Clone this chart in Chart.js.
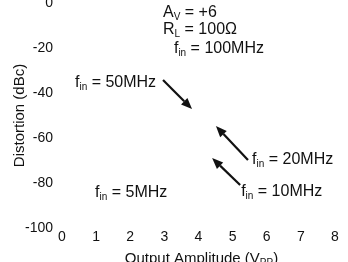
<!DOCTYPE html>
<html>
<head>
<meta charset="utf-8">
<script src="https://cdn.jsdelivr.net/npm/chart.js@4.4.1/dist/chart.umd.min.js"></script>
<style>
html,body{margin:0;padding:0;background:#fff}
#wrap{width:348px;height:262px}
</style>
</head>
<body>
<div id="wrap"><canvas id="c"></canvas></div>
<script>
// axis ranges / ticks
const xTicks = [0, 1, 2, 3, 4, 5, 6, 7, 8];
const yTicks = [0, -20, -40, -60, -80, -100];

// text notes: main letter, subscript, rest (positions in data units, left/baseline)
const noteMain = ['A', 'R', 'f', 'f', 'f', 'f', 'f'];
const noteSub = ['V', 'L', 'in', 'in', 'in', 'in', 'in'];
const noteRest = [' = +6', ' = 100Ω', ' = 100MHz', ' = 50MHz', ' = 20MHz', ' = 10MHz', ' = 5MHz'];
const noteX = [2.96, 2.96, 3.28, 0.38, 5.57, 5.25, 0.97];
const noteY = [-6.2, -13.8, -22.2, -37.3, -71.6, -85.8, -86.0];

// arrows (tail -> head)
const arrowFromX = [2.96, 5.45, 5.22];
const arrowFromY = [-34.2, -69.8, -80.9];
const arrowToX = [3.81, 4.51, 4.40];
const arrowToY = [-47.1, -54.7, -68.9];

const FONT = '"Liberation Sans", Arial, sans-serif';
const INK = '#111';

const notesPlugin = {
  id: 'notes',
  afterDraw(chart) {
    const ctx = chart.ctx;
    const xs = chart.scales.x, ys = chart.scales.y;
    ctx.save();
    ctx.fillStyle = INK;
    ctx.strokeStyle = INK;
    ctx.textBaseline = 'alphabetic';
    ctx.textAlign = 'left';
    // notes
    noteMain.forEach((m, i) => {
      let px = xs.getPixelForValue(noteX[i]);
      const py = ys.getPixelForValue(noteY[i]);
      ctx.font = '16px ' + FONT;
      ctx.fillText(m, px, py);
      px += ctx.measureText(m).width;
      ctx.font = '10px ' + FONT;
      ctx.fillText(noteSub[i], px, py + 3);
      px += ctx.measureText(noteSub[i]).width;
      ctx.font = '16px ' + FONT;
      ctx.fillText(noteRest[i], px, py);
    });
    // arrows
    arrowFromX.forEach((fx, i) => {
      const x1 = xs.getPixelForValue(fx), y1 = ys.getPixelForValue(arrowFromY[i]);
      const x2 = xs.getPixelForValue(arrowToX[i]), y2 = ys.getPixelForValue(arrowToY[i]);
      const a = Math.atan2(y2 - y1, x2 - x1);
      const hl = 11, hw = 4.5;
      const bx = x2 - hl * Math.cos(a), by = y2 - hl * Math.sin(a);
      ctx.lineWidth = 2.2;
      ctx.beginPath();
      ctx.moveTo(x1, y1);
      ctx.lineTo(bx, by);
      ctx.stroke();
      ctx.beginPath();
      ctx.moveTo(x2, y2);
      ctx.lineTo(bx + hw * Math.sin(a), by - hw * Math.cos(a));
      ctx.lineTo(bx - hw * Math.sin(a), by + hw * Math.cos(a));
      ctx.closePath();
      ctx.fill();
    });
    // x axis title with subscript
    const parts = ['Output Amplitude (V', 'PP', ')'];
    ctx.font = '15px ' + FONT;
    const w0 = ctx.measureText(parts[0]).width, w2 = ctx.measureText(parts[2]).width;
    ctx.font = '10px ' + FONT;
    const w1 = ctx.measureText(parts[1]).width;
    const cx = (chart.chartArea.left + chart.chartArea.right) / 2 + 3;
    let tx = cx - (w0 + w1 + w2) / 2;
    const ty = xs.bottom + 1;
    ctx.font = '15px ' + FONT;
    ctx.fillText(parts[0], tx, ty);
    tx += w0;
    ctx.font = '10px ' + FONT;
    ctx.fillText(parts[1], tx, ty + 3);
    tx += w1;
    ctx.font = '15px ' + FONT;
    ctx.fillText(parts[2], tx, ty);
    ctx.restore();
  }
};

new Chart(document.getElementById('c'), {
  type: 'scatter',
  data: { datasets: [{ data: [] }] },
  options: {
    responsive: true,
    maintainAspectRatio: false,
    animation: false,
    layout: { padding: { top: 3, right: 13, left: 0, bottom: 0 } },
    plugins: { legend: { display: false }, tooltip: { enabled: false } },
    scales: {
      x: {
        type: 'linear',
        min: xTicks[0], max: xTicks[xTicks.length - 1],
        afterBuildTicks: s => { s.ticks = xTicks.map(v => ({ value: v })); },
        afterFit: s => { s.height = 34; s.paddingLeft = 0; s.paddingRight = 0; },
        grid: { display: false, drawTicks: false },
        border: { display: false },
        ticks: { color: INK, padding: 1, font: { family: FONT, size: 14 }, maxRotation: 0 }
      },
      y: {
        type: 'linear',
        min: yTicks[yTicks.length - 1], max: yTicks[0],
        afterBuildTicks: s => { s.ticks = yTicks.map(v => ({ value: v })); },
        afterFit: s => { s.width = 62; s.paddingTop = 0; s.paddingBottom = 0; },
        grid: { display: false, drawTicks: false },
        border: { display: false },
        ticks: { color: INK, padding: 9, font: { family: FONT, size: 14 } },
        title: {
          display: true, text: 'Distortion (dBc)', color: INK,
          font: { family: FONT, size: 15 }, padding: { top: 11, bottom: 0 }
        }
      }
    }
  },
  plugins: [notesPlugin]
});
</script>
</body>
</html>
